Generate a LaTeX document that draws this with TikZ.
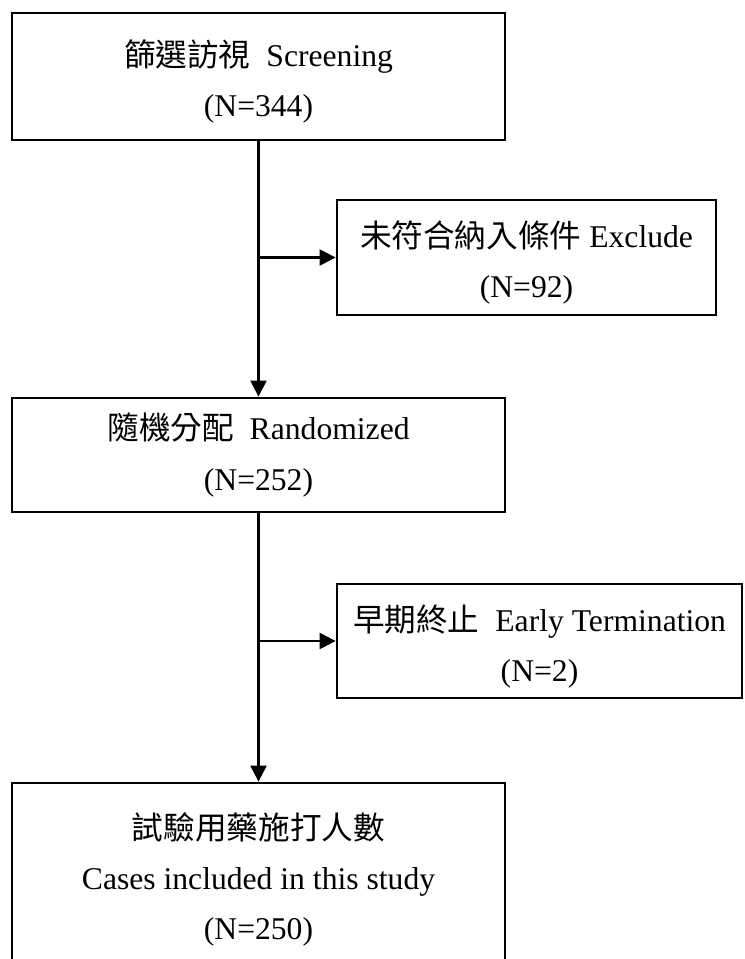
\documentclass[tikz,border=0pt]{standalone}
\usepackage{fontspec}
\setmainfont{Liberation Serif}
\newfontfamily\cjk{Noto Sans CJK TC}
\usetikzlibrary{arrows.meta}
\newcommand{\boxstrut}{\rule{0pt}{21pt}}

\begin{document}
\begin{tikzpicture}[
>={Triangle[length=3.2mm,width=3.2mm]},
boxnode/.style={rectangle, draw=black, line width=1.6pt, align=center, inner sep=2pt, font={\fontsize{18pt}{28.5pt}\selectfont}},
flowline/.style={line width=1.3pt}
]
    \useasboundingbox (0,0) rectangle (14.88,-19.18);

    \node[boxnode, minimum width=9.86cm, minimum height=2.54cm] (scr) at (5.17,-1.53){\boxstrut{\cjk 篩選訪視}\ \ Screening\\(N=344)};
    \node[boxnode, minimum width=7.58cm, minimum height=2.3cm] (excl) at (10.53,-5.15){\boxstrut{\cjk 未符合納入條件} Exclude\\(N=92)};
    \node[boxnode, minimum width=9.86cm, minimum height=2.28cm] (rand) at (5.17,-9.10){{\cjk 隨機分配}\ \ Randomized\\(N=252)};
    \node[boxnode, minimum width=8.1cm, minimum height=2.28cm] (term) at (10.79,-12.82){\boxstrut{\cjk 早期終止}\ \ Early Termination\\(N=2)};
    \node[boxnode, minimum width=9.86cm, minimum height=3.64cm] (incl) at (5.17,-17.48){\boxstrut{\cjk 試驗用藥施打人數}\\Cases included in this study\\(N=250)};

    \coordinate (br1) at (scr.south |- excl.west);
    \coordinate (br2) at (rand.south |- term.west);

    \draw[flowline,->] (scr) -- (rand);
    \draw[flowline,->] (br1) -- (excl.west);

    \draw[flowline,->] (rand) -- (incl);
    \draw[flowline,->] (br2) -- (term.west);
\end{tikzpicture}
\end{document}
